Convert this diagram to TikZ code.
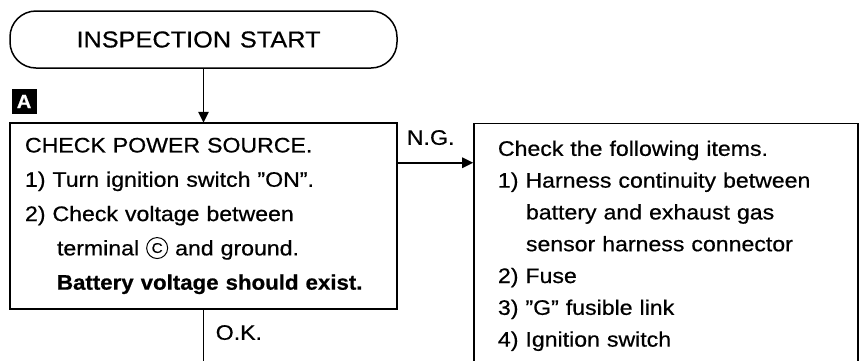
\documentclass[tikz,border=0pt]{standalone}
\usepackage{fontspec}
\setmainfont{Liberation Sans}[FakeStretch=1.1,FakeBold=0.6,WordSpace=1.25,BoldFeatures={FakeStretch=1.06}]
\usetikzlibrary{arrows.meta,positioning}
\newcommand{\circC}{\tikz[baseline={([yshift=-2.5pt]cc.base)}]\node[draw,circle,line width=1pt,
  inner sep=0pt,minimum size=21pt] (cc) {\fontsize{14}{14}\selectfont C};}

\begin{document}
\begin{tikzpicture}[
  x=1pt,y=-1pt,
  >={Triangle[length=11pt,width=10.5pt]},
  line width=1.5pt,
  terminal/.style={
    draw,
    rounded corners=26pt,
    minimum width=387pt,
    minimum height=57pt,
    font=\fontsize{23}{26}\selectfont
  },
  checkbox/.style={
    draw,
    align=left,
    inner xsep=15pt,
    text width=357pt,
    minimum height=186pt,
    font=\fontsize{21}{34.3}\selectfont
  },
  itembox/.style={
    draw,
    align=left,
    inner xsep=24pt,
    text width=336pt,
    minimum height=244.6pt,
    font=\fontsize{21}{31.8}\selectfont
  },
  labeltag/.style={
    fill=black,
    text=white,
    inner sep=0pt,
    minimum width=25pt,
    minimum height=25pt,
    font=\bfseries\fontsize{19}{19}\selectfont
  },
  flowtext/.style={
    inner sep=0pt,
    font=\fontsize{21}{24}\selectfont
  }
]
  \useasboundingbox (0,0) rectangle (862,360);
  \clip (0,0) rectangle (862,360);

  \node[terminal] (start) at (203.5,39.5) {\hspace*{-10pt}INSPECTION START};
  \node[checkbox,below=54pt of start] (srcbox)
    {CHECK POWER SOURCE.\\
     1)~Turn ignition switch ''ON''.\\
     2)~Check voltage between\\
     \hspace*{32pt}terminal \circC{} and ground.\\
     \hspace*{32pt}\textbf{Battery voltage should exist.}};
  \node[labeltag,above right=8pt and 1pt of srcbox.north west] (tagA) {A};
  \node[itembox,right=76pt of srcbox.north east,anchor=north west] (items)
    {Check the following items.\\
     1)~Harness continuity between\\
     \hspace*{28pt}battery and exhaust gas\\
     \hspace*{28pt}sensor harness connector\\
     2)~Fuse\\
     3)~''G'' fusible link\\
     4)~Ignition switch};
  \coordinate[below=52pt of srcbox.south] (okend);

  \draw[->] (start)--(srcbox);
  \draw[->]
    ([yshift=-40pt]srcbox.north east)--([yshift=-40pt]srcbox.north east -| items.west)
    node[flowtext,pos=0.44,above=17pt] {N.G.};
  \draw (srcbox)--(okend)
    node[flowtext,pos=0.45,right=11.5pt] {O.K.};
\end{tikzpicture}
\end{document}
